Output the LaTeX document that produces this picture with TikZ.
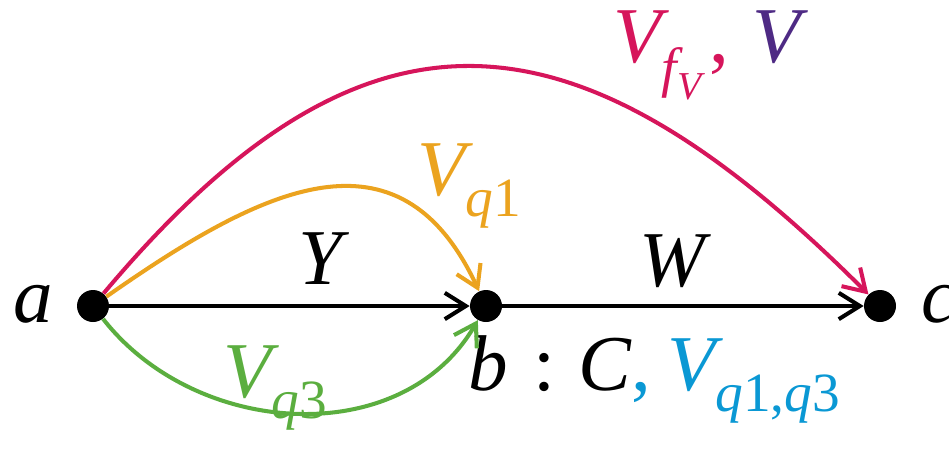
\documentclass[tikz,border=0pt]{standalone}
\usepackage{amsmath}
\usepackage{fontspec}
\setmainfont{Liberation Serif}
\usetikzlibrary{arrows.meta}
\definecolor{Crimson}{HTML}{D6155B}
\definecolor{Plum}{HTML}{4E2A84}
\definecolor{Amber}{HTML}{EBA31F}
\definecolor{Leaf}{HTML}{5BAE3F}
\definecolor{Sky}{HTML}{0A98D4}
\newcommand{\mi}[1]{\textit{#1}}
\newcommand{\up}[1]{\textup{#1}}

\begin{document}
\begin{tikzpicture}[x=0.02cm,y=0.02cm,font=\fontsize{45}{54}\selectfont,
      dot/.style={circle,fill=black,minimum size=0.64cm,inner sep=0pt},
      edge/.style={-{Straight Barb[length=12pt,width=15pt]},line width=2.3pt},
      lbl/.style={inner sep=0pt}]
    \useasboundingbox (0,0) rectangle (949,451);
    % vertices
    \node[dot] (a) at (93,145) {};
    \node[dot] (b) at (486,145) {};
    \node[dot] (c) at (880,145) {};
    \node[lbl] (la) at (33,147) {$\mi{a}$};
    \node[lbl,anchor=west] (lc) at (921,147) {$\mi{c}$};
    \node[lbl,anchor=base west] (lb) at (468,61)
      {$\mi{b}\hspace{0.32em}\up{:}\hspace{0.3em}\mi{C}%
       \textcolor{Sky}{\up{,}\hspace{0.2em}\mi{V}_{\mi{q}\up{1}\up{,}\mi{q}\up{3}}}$};

    % curved edges
    \draw[edge,Crimson] (a) to[out=50,in=135,looseness=1.38] (c);
    \draw[edge,Amber] (a) to[out=35,in=115,looseness=1.3] (b);
    \draw[edge,Leaf] (a) to[out=-52,in=-120,looseness=1.03] (b);
    \node[lbl,anchor=north west,text=Crimson] (lv) at (613,441)
      {$\mi{V}_{\mi{f}_{\mi{V}}}\hspace{0.08em}\up{,}\hspace{0.3em}\textcolor{Plum}{\mi{V}}$};
    \node[lbl,anchor=north west,text=Amber] (lq1) at (417,308)
      {$\mi{V}_{\mi{q}\up{1}}$};
    \node[lbl,anchor=north west,text=Leaf] (lq3) at (223,106)
      {$\mi{V}_{\mi{q}\up{3}}$};

    % straight edges
    \draw[edge] (a) -- (b);
    \draw[edge] (b) -- (c);
    \node[lbl] (ly) at (320,192) {$\mi{Y}$};
    \node[lbl] (lw) at (672,190) {$\mi{W}$};
  \end{tikzpicture}
\end{document}
